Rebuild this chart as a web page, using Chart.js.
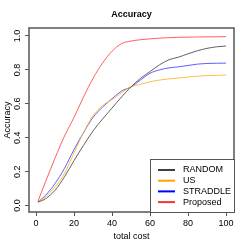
<!DOCTYPE html>
<html>
<head>
<meta charset="utf-8">
<script src="https://cdn.jsdelivr.net/npm/chart.js@4.4.1/dist/chart.umd.min.js"></script>
<style>
html,body{margin:0;padding:0;background:#fff;}
#wrap{width:249px;height:249px;position:relative;}
</style>
</head>
<body>
<div id="wrap"><canvas id="c"></canvas></div>
<script>
const costs = [1,5,10,15,20,25,30,35,40,45,50,55,60,65,70,75,80,85,90,95,100];
const randomAcc = [0.02,0.04,0.09,0.17,0.265,0.355,0.44,0.51,0.575,0.64,0.70,0.75,0.79,0.83,0.86,0.875,0.895,0.913,0.927,0.936,0.941];
const usAcc = [0.02,0.05,0.11,0.19,0.31,0.43,0.53,0.59,0.625,0.665,0.70,0.715,0.73,0.74,0.747,0.752,0.758,0.763,0.766,0.768,0.77];
const straddleAcc = [0.02,0.06,0.13,0.22,0.33,0.43,0.52,0.58,0.63,0.675,0.70,0.74,0.78,0.80,0.812,0.818,0.826,0.834,0.838,0.839,0.84];
const proposedAcc = [0.025,0.14,0.28,0.41,0.52,0.64,0.75,0.84,0.91,0.955,0.97,0.978,0.983,0.987,0.99,0.992,0.993,0.994,0.995,0.995,0.996];
const seriesNames = ['RANDOM','US','STRADDLE','Proposed'];
const lineColors = ['#505050','#FFB733','#4D4DFF','#FF4D4D'];
const legendColors = ['#404040','#FFA500','#0000FF','#FF3030'];
const xTicks = [0,20,40,60,80,100];
const yTicks = [0.0,0.2,0.4,0.6,0.8,1.0];
const FONT = '"Liberation Sans", Arial, Helvetica, sans-serif';

const allSeries = [randomAcc, usAcc, straddleAcc, proposedAcc];
const datasets = allSeries.map((vals, i) => ({
  label: seriesNames[i],
  data: costs.map((c, j) => ({x: c, y: vals[j]})),
  borderColor: lineColors[i],
  borderWidth: 0.9,
  pointRadius: 0,
  cubicInterpolationMode: 'monotone',
  fill: false
}));

const deco = {
  id: 'deco',
  afterDraw(chart) {
    const ctx = chart.ctx;
    const a = chart.chartArea;
    ctx.save();
    ctx.strokeStyle = '#555';
    ctx.lineWidth = 1.5;
    ctx.strokeRect(a.left, a.top, a.right - a.left, a.bottom - a.top);
    ctx.fillStyle = '#000';
    ctx.font = 'bold 9px ' + FONT;
    ctx.textAlign = 'center';
    ctx.textBaseline = 'middle';
    ctx.fillText('Accuracy', (a.left + a.right) / 2, 15);
    ctx.font = '9px ' + FONT;
    ctx.fillText('total cost', (a.left + a.right) / 2, 237);
    ctx.save();
    ctx.translate(8, (a.top + a.bottom) / 2);
    ctx.rotate(-Math.PI / 2);
    ctx.fillText('Accuracy', 0, 0);
    ctx.restore();
    const lx = 150, ly = 159, lw = a.right - lx, lh = a.bottom - ly;
    ctx.fillStyle = '#fff';
    ctx.fillRect(lx, ly, lw, lh);
    ctx.strokeStyle = '#555';
    ctx.lineWidth = 1;
    ctx.strokeRect(lx + 0.5, ly + 0.5, lw, lh);
    ctx.textAlign = 'left';
    seriesNames.forEach((n, i) => {
      const y = 170 + i * 10.7;
      ctx.strokeStyle = legendColors[i];
      ctx.lineWidth = 2;
      ctx.beginPath();
      ctx.moveTo(158, y);
      ctx.lineTo(175, y);
      ctx.stroke();
      ctx.fillStyle = '#000';
      ctx.fillText(n, 183, y);
    });
    ctx.restore();
  }
};

new Chart(document.getElementById('c'), {
  type: 'line',
  data: { datasets },
  options: {
    responsive: true,
    maintainAspectRatio: false,
    animation: false,
    layout: { padding: { top: 28, right: 15, left: 0, bottom: 0 } },
    plugins: { legend: { display: false }, title: { display: false }, tooltip: { enabled: false } },
    scales: {
      x: {
        type: 'linear',
        min: -3.7, max: 104.2,
        afterFit(s) { s.height = 37; },
        afterBuildTicks(s) { s.ticks = xTicks.map(v => ({value: v})); },
        grid: { drawOnChartArea: false, drawTicks: true, tickLength: 4, color: '#555', lineWidth: 1 },
        border: { display: false },
        ticks: { padding: 2, color: '#000', font: { family: FONT, size: 9 }, maxRotation: 0, minRotation: 0, autoSkip: false,
          callback: v => String(v) }
      },
      y: {
        type: 'linear',
        min: -0.038, max: 1.047,
        afterFit(s) { s.width = 29; },
        afterBuildTicks(s) { s.ticks = yTicks.map(v => ({value: v})); },
        grid: { drawOnChartArea: false, drawTicks: true, tickLength: 4, color: '#555', lineWidth: 1 },
        border: { display: false },
        ticks: { padding: 1, color: '#000', font: { family: FONT, size: 9 }, minRotation: 90, maxRotation: 90, crossAlign: 'center', autoSkip: false,
          callback: v => v.toFixed(1) }
      }
    }
  },
  plugins: [deco]
});
</script>
</body>
</html>
